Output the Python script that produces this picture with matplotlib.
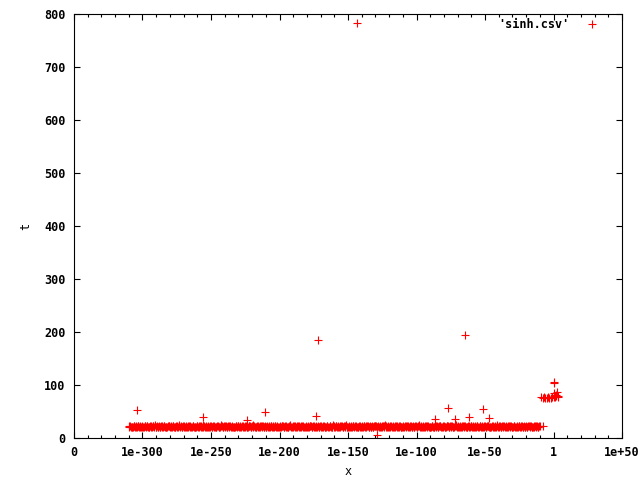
import numpy as np
import matplotlib
matplotlib.use('Agg')
import matplotlib.pyplot as plt

# x values are stored as log10(x) exponents; t is the measured value
band_x = np.arange(-310, -9)
band_t = [
    21, 22, 21, 20, 22, 23, 21, 22, 20, 21, 22, 21, 23, 22, 21, 20, 22, 21, 22, 24,
    21, 20, 22, 21, 23, 21, 22, 20, 21, 22, 21, 22, 23, 21, 20, 22, 21, 24, 22, 21,
    22, 21, 20, 21, 22, 23, 21, 22, 21, 20, 22, 21, 22, 23, 21, 22, 20, 21, 22, 21,
    23, 21, 22, 20, 21, 22, 21, 24, 22, 21, 20, 22, 21, 23, 22, 21, 20, 21, 22, 21,
    22, 20, 21, 23, 21, 22, 21, 20, 22, 21, 22, 24, 21, 20, 22, 21, 23, 21, 22, 20,
    21, 22, 21, 20, 23, 22, 21, 22, 20, 21, 22, 21, 23, 21, 22, 20, 21, 22, 25, 21,
    20, 22, 21, 22, 23, 21, 20, 22, 21, 22, 21, 20, 23, 22, 21, 22, 20, 21, 22, 21,
    22, 21, 23, 20, 21, 22, 21, 22, 20, 24, 21, 22, 21, 20, 22, 23, 21, 22, 21, 20,
    21, 22, 20, 21, 23, 22, 21, 20, 22, 21, 22, 21, 23, 20, 22, 21, 22, 21, 20, 22,
    23, 21, 22, 21, 20, 22, 21, 24, 22, 21, 20, 22, 21, 23, 21, 22, 20, 21, 22, 21,
    22, 20, 21, 22, 23, 21, 22, 21, 20, 22, 21, 22, 24, 21, 20, 22, 21, 23, 22, 21,
    21, 22, 20, 21, 22, 23, 21, 22, 21, 20, 22, 21, 22, 23, 21, 20, 22, 21, 22, 25,
    20, 21, 22, 21, 23, 22, 21, 20, 22, 21, 22, 21, 20, 23, 22, 21, 22, 20, 21, 22,
    22, 21, 23, 21, 20, 22, 21, 22, 21, 24, 20, 22, 21, 22, 23, 21, 20, 22, 21, 22,
    21, 22, 20, 22, 21, 23, 21, 22, 20, 21, 22, 21, 23, 22, 21, 20, 22, 21, 22, 21,
    22,
]
# second sample in each decade
band_x2 = np.arange(-309.5, -9.5)
band_t2 = [
    22, 20, 21, 22, 21, 20, 23, 21, 22, 21, 20, 22, 21, 22, 20, 23, 21, 22, 21, 20,
    22, 21, 20, 23, 21, 22, 20, 21, 22, 23, 21, 20, 22, 21, 22, 21, 23, 20, 21, 22,
    20, 22, 21, 22, 20, 21, 23, 21, 20, 22, 21, 22, 20, 21, 24, 21, 22, 20, 21, 22,
    21, 22, 20, 21, 23, 21, 20, 22, 21, 22, 23, 21, 22, 20, 21, 22, 21, 20, 23, 22,
    21, 23, 22, 21, 20, 22, 21, 22, 23, 20, 21, 22, 21, 22, 20, 21, 22, 23, 21, 22,
    20, 21, 22, 23, 21, 20, 22, 21, 22, 21, 20, 23, 22, 21, 22, 21, 20, 22, 21, 23,
    22, 21, 20, 22, 21, 22, 23, 21, 20, 21, 22, 21, 22, 20, 23, 21, 22, 21, 20, 22,
    21, 20, 22, 21, 23, 21, 22, 20, 21, 22, 21, 23, 22, 21, 20, 22, 21, 22, 24, 21,
    20, 21, 22, 23, 21, 22, 20, 21, 22, 21, 20, 22, 21, 22, 23, 21, 20, 22, 21, 22,
    22, 20, 21, 22, 21, 23, 22, 21, 20, 22, 21, 22, 21, 20, 22, 23, 21, 22, 21, 20,
    21, 22, 23, 21, 20, 22, 21, 22, 21, 23, 20, 22, 21, 22, 21, 20, 23, 21, 22, 21,
    20, 22, 21, 22, 21, 20, 22, 23, 21, 22, 21, 20, 22, 21, 23, 22, 21, 20, 22, 21,
    22, 21, 20, 22, 21, 22, 20, 23, 21, 22, 21, 22, 20, 21, 22, 21, 23, 22, 20, 21,
    21, 23, 22, 20, 21, 22, 21, 20, 22, 21, 23, 21, 22, 20, 21, 22, 21, 22, 23, 21,
    20, 22, 21, 21, 22, 20, 23, 21, 22, 21, 20, 22, 21, 22, 20, 21, 22, 23, 21, 22,
]

outlier_x = [-304, -255.6, -223.5, -210.6, -173.4, -172, -143.4, -128.6,
             -86.5, -76.8, -71.9, -64.6, -61.5, -51.7, -46.9, -7.5]
outlier_t = [53, 39, 34, 48.5, 41.5, 185, 783, 6,
             35, 57, 36, 194, 40, 55, 38, 22]

cluster_x = [-9, -8, -7, -6, -5, -4, -3, -2, -1, 0,
             0.3, 0.5, 1, 1.5, 2, 2.5, 3, 3.5, 0.4, 0.6]
cluster_t = [77, 76, 77, 76, 76, 77, 76, 76, 77, 77,
             80, 84, 78, 82, 79, 86, 77, 80, 106, 104]

xticks = [-350, -300, -250, -200, -150, -100, -50, 0, 50]
xtick_labels = ['0', '1e-300', '1e-250', '1e-200', '1e-150', '1e-100', '1e-50', '1', '1e+50']
yticks = [0, 100, 200, 300, 400, 500, 600, 700, 800]

xs = np.concatenate([band_x, band_x2, outlier_x, cluster_x])
ts = np.concatenate([band_t, band_t2, outlier_t, cluster_t])

plt.rcParams['font.family'] = ['DejaVu Sans Mono']
plt.rcParams['font.weight'] = 'bold'
plt.rcParams['font.size'] = 8.5

fig = plt.figure(figsize=(6.4, 4.8), dpi=100)
ax = fig.add_axes([74 / 640, 1 - 438 / 480, 548 / 640, 424 / 480])

ax.plot(xs, ts, linestyle='none', marker='+', color='red',
        markersize=5.2, markeredgewidth=0.8, antialiased=False, label="'sinh.csv'")

ax.set_xlim(-350, 50)
ax.set_ylim(0, 800)
ax.set_xticks(xticks)
ax.set_xticklabels(xtick_labels)
ax.set_xticks(np.arange(-350, 51, 10), minor=True)
ax.set_yticks(yticks)

ax.tick_params(which='both', direction='in', top=True, right=True, width=0.8, pad=6)
ax.tick_params(which='major', length=4)
ax.tick_params(which='minor', length=2.5)
for s in ax.spines.values():
    s.set_linewidth(0.8)

ax.set_xlabel('x', labelpad=4)
ax.set_ylabel('t', labelpad=9)

ax.legend(loc='upper right', frameon=False, markerfirst=False,
          bbox_to_anchor=(0.977, 1.01), handlelength=1.5, handletextpad=1.2,
          borderaxespad=0.3)

fig.savefig('out.png', dpi=100)
